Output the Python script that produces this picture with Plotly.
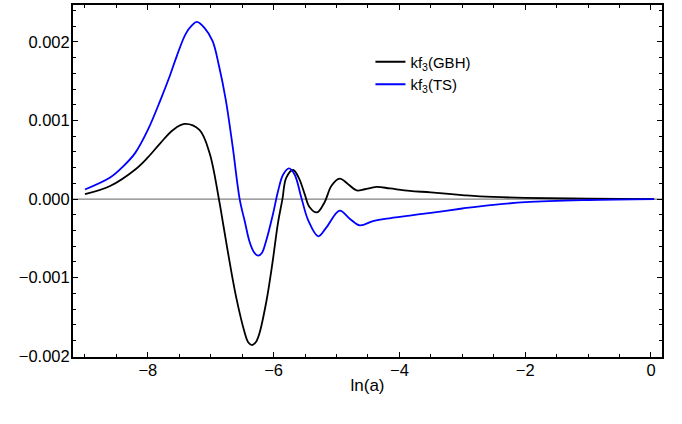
import plotly.graph_objects as go

# ln(a) values and kf3 series
x_gbh = [-9.0, -8.6, -8.2, -8.0, -7.8, -7.6, -7.415, -7.18, -7.02, -6.87, -6.8, -6.7, -6.59, -6.46,
         -6.405, -6.345, -6.285, -6.23, -6.115, -6.02, -5.93, -5.86, -5.80, -5.69, -5.60, -5.505,
         -5.43, -5.31, -5.19, -5.08, -4.95, -4.815, -4.68, -4.55, -4.365, -4.15, -3.835, -3.5,
         -3.0, -2.72, -2.0, -1.0, 0.05]
y_gbh = [0.000063, 0.000167, 0.000377, 0.00053, 0.000713, 0.00088, 0.000956, 0.00088, 0.00059, 0.0,
         -0.00033, -0.00080, -0.00127, -0.00170, -0.001823, -0.001858, -0.001823, -0.00172, -0.0013,
         -0.00082, -0.0003, 0.0, 0.00027, 0.00037, 0.00027, 0.00006, -0.0001, -0.00017, -0.00004,
         0.00017, 0.00026, 0.00019, 0.00011, 0.000125, 0.000155, 0.000135, 0.000104, 0.000085,
         0.00005, 0.000034, 0.000015, 0.000005, 0.0]

x_ts = [-9.0, -8.6, -8.4, -8.2, -8.0, -7.8, -7.65, -7.54, -7.4, -7.3, -7.22, -7.1, -6.97, -6.87,
        -6.76, -6.65, -6.54, -6.46, -6.38, -6.31, -6.25,
        -6.19, -6.115, -6.01, -5.93, -5.85, -5.755, -5.665, -5.56, -5.45, -5.29, -5.16, -4.95,
        -4.79, -4.63, -4.42, -4.205, -3.835, -3.5, -3.0, -2.72, -2.0, -1.0, 0.05]
y_ts = [0.000122, 0.000274, 0.00041, 0.000588, 0.00088, 0.00126, 0.00157, 0.00182, 0.00210, 0.00221,
        0.002255, 0.00218, 0.00201, 0.00170,
        0.00126, 0.00066, 0.0, -0.00028, -0.00055, -0.00068, -0.00072, -0.00069, -0.00052, -0.00019,
        0.0001, 0.00031, 0.00039, 0.00031, 0.00002, -0.00027, -0.000474, -0.00036, -0.000147,
        -0.00025, -0.000335, -0.00028, -0.00025, -0.00021, -0.000175, -0.00012, -0.000092,
        -0.00004, -0.000012, 0.0]

names = ["kf<sub>3</sub>(GBH)", "kf<sub>3</sub>(TS)"]
colors = ["#000000", "#0000ff"]

fig = go.Figure()
for xs, ys, nm, c in [(x_gbh, y_gbh, names[0], colors[0]), (x_ts, y_ts, names[1], colors[1])]:
    fig.add_trace(go.Scatter(x=xs, y=ys, mode="lines", name=nm,
                             line=dict(color=c, width=1.8, shape="spline", smoothing=1.0)))

fig.add_hline(y=0, line=dict(color="#808080", width=1.2), layer="below")

font = "Liberation Sans, Arial, Helvetica, sans-serif"
axis_common = dict(showgrid=False, zeroline=False, showline=True, linecolor="black", linewidth=2,
                   mirror="ticks", ticks="inside", ticklen=5, tickwidth=1, tickcolor="black",
                   tickfont=dict(family=font, size=16.5, color="black"))
fig.update_xaxes(range=[-9.19, 0.175], tickmode="array", tickvals=[-8, -6, -4, -2, 0],
                 ticktext=["\u22128", "\u22126", "\u22124", "\u22122", "0"],
                 minor=dict(dtick=0.5, tick0=0, ticks="inside", ticklen=3, tickcolor="black", tickwidth=1),
                 title=dict(text="ln(a)", font=dict(family=font, size=17, color="black"), standoff=1),
                 ticklabelstandoff=-3,
                 **axis_common)
fig.update_yaxes(range=[-0.00201, 0.00247], tickmode="array",
                 tickvals=[-0.002, -0.001, 0, 0.001, 0.002],
                 ticktext=["\u22120.002", "\u22120.001", "0.000", "0.001", "0.002"],
                 minor=dict(dtick=0.0002, tick0=0, ticks="inside", ticklen=3, tickcolor="black", tickwidth=1),
                 ticklabelstandoff=-2,
                 **axis_common)

fig.update_layout(
    width=682, height=424,
    margin=dict(l=73, r=20, t=3, b=67),
    plot_bgcolor="white", paper_bgcolor="white",
    showlegend=True,
    legend=dict(x=0.505, y=0.885, xanchor="left", yanchor="top", bgcolor="rgba(0,0,0,0)",
                font=dict(family=font, size=15, color="black"), itemwidth=30, tracegroupgap=0),
)

fig.write_html("out.html")
